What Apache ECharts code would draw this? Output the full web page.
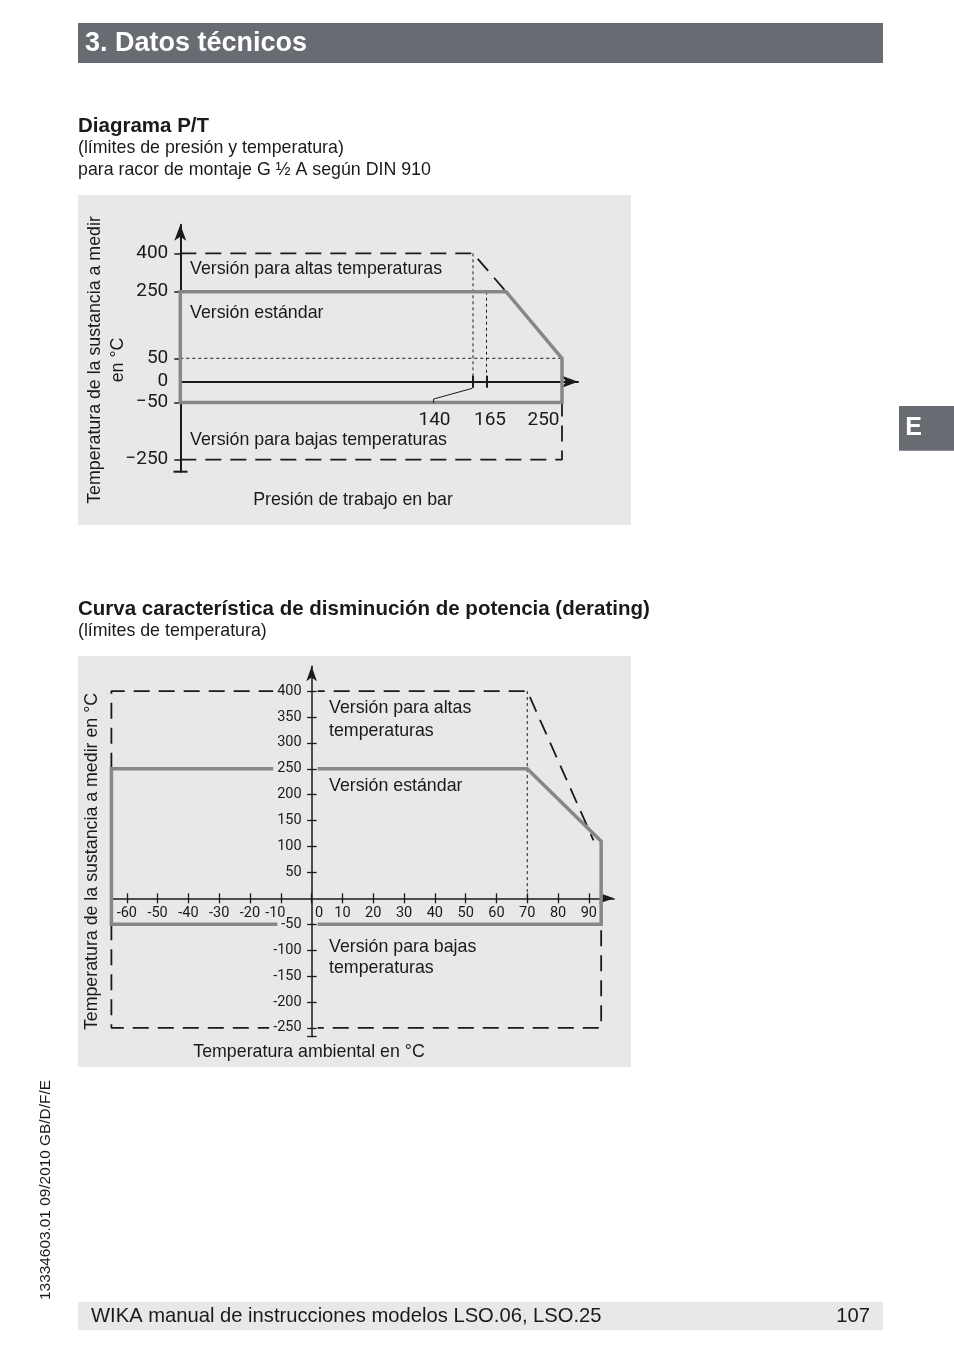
<!DOCTYPE html>
<html><head><meta charset="utf-8">
<script src="https://cdn.jsdelivr.net/npm/echarts@6/dist/echarts.min.js"></script>
<style>html,body{margin:0;padding:0;background:#fff}#c{width:954px;height:1354px}</style>
</head><body><div id="c"></div><script>
// ================= DATA =================
// Diagram P/T (pressure in bar vs medium temperature in °C)
const ptPressureTickLabels = [140, 165, 250];
const ptPressureTickMarks = [140, 165];
const ptTempTickLabels = [400, 250, 50, 0, -50, -250];
const ptTempTickMarks = [400, 250, 50, -50, -250];

const ptStdPressure = [0, 187, 250, 250, 0, 0];
const ptStdTemp = [250, 250, 50, -50, -50, 250];
const ptHighPressure = [0, 140, 187];
const ptHighTemp = [400, 400, 250];
const ptLowPressure = [0, 250, 250];
const ptLowTemp = [-250, -250, -50];
const ptGuide50Pressure = [0, 250];
const ptGuide50Temp = [50, 50];
const ptGuide140Pressure = [140, 140];
const ptGuide140Temp = [400, 0];
const ptGuide165Pressure = [165, 165];
const ptGuide165Temp = [250, 0];

// Derating curve (ambient temperature vs medium temperature, °C)
const drAmbientTicks = [-60, -50, -40, -30, -20, -10, 0, 10, 20, 30, 40, 50, 60, 70, 80, 90];
const drMediumTicks = [-250, -200, -150, -100, -50, 50, 100, 150, 200, 250, 300, 350, 400];
const drStdAmbient = [-65, 70, 94, 94, -65, -65];
const drStdMedium = [250, 250, 110, -50, -50, 250];
const drHighAmbient = [-65, -65, 70, 91.5];
const drHighMedium = [250, 400, 400, 112];
const drLowAmbient = [-65, -65, 94, 94];
const drLowMedium = [-50, -250, -250, -50];
const drGuideAmbient = [70, 70];
const drGuideMedium = [400, 0];

// ================= SCALES / STYLES =================
// The P/T diagram is a schematic with a piecewise (non-proportional) axis scale.
const ptXKnots = [0, 140, 165, 250], ptXSpan = [0, 292.7, 306.2, 381.7];
const ptYKnots = [-250, -50, 0, 50, 250, 400], ptYSpan = [-78, -20.8, 0, 23.4, 90, 128.4];
function warp(v, knots, span) {
  for (let i = 0; i < knots.length - 1; i++) {
    if (v <= knots[i + 1] || i === knots.length - 2) {
      const t = (v - knots[i]) / (knots[i + 1] - knots[i]);
      return span[i] + t * (span[i + 1] - span[i]);
    }
  }
}
const ptX = v => warp(v, ptXKnots, ptXSpan);
const ptY = v => warp(v, ptYKnots, ptYSpan);
const ident = v => v;
const pairs = (xs, ys, fx, fy) => xs.map((x, i) => [fx(x), fy(ys[i])]);

// axis ranges and grid boxes
const g0 = { left: 180.3, top: 224.7, width: 397.7, height: 247 };
const g0x = [0, 397.7], g0y = [-90, 157];
const g1 = { left: 111.4, top: 666.2, width: 502.7, height: 370.4 };
const g1x = [-65, 98.2], g1y = [-267, 448];
// offsets that put the axes through the origin (value 0)
const g0xOff = -(0 - g0y[0]) / (g0y[1] - g0y[0]) * g0.height;
const g1xOff = -(0 - g1y[0]) / (g1y[1] - g1y[0]) * g1.height;
const g1yOff = -(0 - g1x[0]) / (g1x[1] - g1x[0]) * g1.width;

const FONT = '"Liberation Sans", Arial, Helvetica, sans-serif';
const NUMFONT = 'Roboto, "DejaVu Sans", sans-serif';
const INK = '#1a1a1a';
const PANEL = '#e8e8e8';
const GREY = '#878787';
const BAR = '#686b72';

function ls(data, xi, yi, style, z) {
  return { type: 'line', xAxisIndex: xi, yAxisIndex: yi, data: data, symbol: 'none', showSymbol: false,
    clip: false, silent: true, animation: false, z: z == null ? 2 : z, lineStyle: style };
}
const greyStyle = w => ({ color: GREY, width: w, join: 'miter', cap: 'square' });
const dashStyle = { color: INK, width: 1.8, type: [16, 9] };
const dotStyle = { color: INK, width: 1, type: [3, 3] };

function txt(x, y, text, opts) {
  opts = opts || {};
  const size = opts.size || 17.8;
  const weight = opts.bold ? 'bold ' : '';
  return { type: 'text', x: x, y: y, z: 10, rotation: opts.rot || 0,
    style: { text: text, font: weight + size + 'px ' + (opts.family || FONT), fill: opts.color || INK,
      textAlign: opts.align || 'left', align: opts.align || 'left',
      textVerticalAlign: 'middle', verticalAlign: 'middle' } };
}

const ptRich = {
  p140: { fontFamily: NUMFONT, fontSize: 19, color: INK, padding: [0, 77, 0, 0] },
  p165: { fontFamily: NUMFONT, fontSize: 19, color: INK, padding: [0, 0, 0, 7] },
  p250: { fontFamily: NUMFONT, fontSize: 19, color: INK, padding: [0, 37, 0, 0] }
};
const noSplit = { show: false };
const DRS = 14.5;

const chart = echarts.init(document.getElementById('c'), null, { renderer: 'canvas' });

const option = {
  animation: false,
  backgroundColor: '#ffffff',
  grid: [g0, g1],
  xAxis: [
    { gridIndex: 0, type: 'value', position: 'bottom', min: g0x[0], max: g0x[1], offset: g0xOff,
      axisLine: { onZero: false, symbol: ['none', 'arrow'], symbolSize: [9, 16], lineStyle: { color: INK, width: 2 } },
      axisTick: { show: true, customValues: ptPressureTickMarks.map(ptX), length: 6, lineStyle: { color: INK, width: 2 } },
      axisLabel: { customValues: ptPressureTickLabels.map(ptX), margin: 29, fontFamily: NUMFONT, fontSize: 19, color: INK, rich: ptRich,
        formatter: function (val) {
          const i = ptPressureTickLabels.findIndex(v => Math.abs(ptX(v) - val) < 1e-6);
          const v = ptPressureTickLabels[i];
          return '{p' + v + '|' + v + '}';
        } },
      splitLine: noSplit },
    { gridIndex: 0, type: 'value', position: 'bottom', min: g0x[0], max: g0x[1], offset: g0xOff,
      axisLine: { show: false, onZero: false },
      axisTick: { show: true, inside: true, customValues: ptPressureTickMarks.map(ptX), length: 6, lineStyle: { color: INK, width: 2 } },
      axisLabel: { show: false }, splitLine: noSplit },
    { gridIndex: 1, type: 'value', position: 'bottom', min: g1x[0], max: g1x[1], offset: g1xOff,
      axisLine: { onZero: false, symbol: ['none', 'arrow'], symbolSize: [8, 15], lineStyle: { color: INK, width: 1.5 } },
      axisTick: { show: true, customValues: drAmbientTicks, length: 5, lineStyle: { color: INK, width: 1.3 } },
      axisLabel: { customValues: drAmbientTicks, margin: 8, fontFamily: NUMFONT, fontSize: DRS, color: INK,
        rich: {
          z: { fontFamily: NUMFONT, fontSize: DRS, color: INK, padding: [0, 0, 0, 15] },
          m: { fontFamily: NUMFONT, fontSize: DRS, color: INK, padding: [0, 11, 0, 0] }
        },
        formatter: function (v) {
          if (v === 0) return '{z|0}';
          if (v === -10) return '{m|-10}';
          return String(v);
        } },
      splitLine: noSplit },
    { gridIndex: 1, type: 'value', position: 'bottom', min: g1x[0], max: g1x[1], offset: g1xOff,
      axisLine: { show: false, onZero: false },
      axisTick: { show: true, inside: true, customValues: drAmbientTicks, length: 5, lineStyle: { color: INK, width: 1.3 } },
      axisLabel: { show: false }, splitLine: noSplit }
  ],
  yAxis: [
    { gridIndex: 0, type: 'value', position: 'left', min: g0y[0], max: g0y[1],
      axisLine: { onZero: false, symbol: ['none', 'arrow'], symbolSize: [9, 16], lineStyle: { color: INK, width: 2 } },
      axisTick: { show: true, customValues: ptTempTickMarks.map(ptY), length: 6, lineStyle: { color: INK, width: 1.5 } },
      axisLabel: { customValues: ptTempTickLabels.map(ptY), margin: 12, fontFamily: NUMFONT, fontSize: 19, color: INK,
        formatter: function (val) {
          const i = ptTempTickLabels.findIndex(v => Math.abs(ptY(v) - val) < 1e-6);
          return String(ptTempTickLabels[i]).replace('-', '\u2212');
        } },
      splitLine: noSplit },
    { gridIndex: 1, type: 'value', position: 'left', min: g1y[0], max: g1y[1], offset: g1yOff, z: 3,
      axisLine: { show: false, onZero: false },
      axisTick: { show: false },
      axisLabel: { customValues: drMediumTicks, margin: -6, fontFamily: NUMFONT, fontSize: DRS, color: INK,
        backgroundColor: PANEL, padding: [0, 16, 0, 4] },
      splitLine: noSplit },
    { gridIndex: 1, type: 'value', position: 'left', min: g1y[0], max: g1y[1], offset: g1yOff, z: 4,
      axisLine: { onZero: false, symbol: ['none', 'arrow'], symbolSize: [8, 15], lineStyle: { color: INK, width: 1.5 } },
      axisTick: { show: true, customValues: drMediumTicks.concat([g1y[0]]), length: 4.5, lineStyle: { color: INK, width: 1.3 } },
      axisLabel: { show: false }, splitLine: noSplit },
    { gridIndex: 1, type: 'value', position: 'left', min: g1y[0], max: g1y[1], offset: g1yOff, z: 4,
      axisLine: { show: false, onZero: false },
      axisTick: { show: true, inside: true, customValues: drMediumTicks.concat([g1y[0]]), length: 5, lineStyle: { color: INK, width: 1.3 } },
      axisLabel: { show: false }, splitLine: noSplit }
  ],
  series: [
    // P/T diagram
    ls(pairs(ptGuide50Pressure, ptGuide50Temp, ptX, ptY), 0, 0, dotStyle, 1),
    ls(pairs(ptGuide140Pressure, ptGuide140Temp, ptX, ptY), 0, 0, dotStyle, 1),
    ls(pairs(ptGuide165Pressure, ptGuide165Temp, ptX, ptY), 0, 0, dotStyle, 1),
    ls(pairs(ptHighPressure, ptHighTemp, ptX, ptY), 0, 0, dashStyle, 1),
    ls(pairs(ptLowPressure, ptLowTemp, ptX, ptY), 0, 0, dashStyle, 1),
    ls(pairs(ptStdPressure, ptStdTemp, ptX, ptY), 0, 0, greyStyle(3.5), 2),
    // Derating curve
    ls(pairs(drGuideAmbient, drGuideMedium, ident, ident), 2, 1, dotStyle, 1),
    ls(pairs(drHighAmbient, drHighMedium, ident, ident), 2, 1, dashStyle, 1),
    ls(pairs(drLowAmbient, drLowMedium, ident, ident), 2, 1, dashStyle, 1),
    ls(pairs(drStdAmbient, drStdMedium, ident, ident), 2, 1, greyStyle(3.5), 2)
  ],
  graphic: {
    elements: [
      // page furniture
      { type: 'rect', z: -5, shape: { x: 78, y: 195, width: 553, height: 330 }, style: { fill: PANEL } },
      { type: 'rect', z: -5, shape: { x: 78, y: 656, width: 553, height: 411 }, style: { fill: PANEL } },
      { type: 'rect', z: 5, shape: { x: 78, y: 23, width: 805, height: 40 }, style: { fill: BAR } },
      txt(85, 43.5, '3. Datos técnicos', { bold: true, size: 27, color: '#ffffff' }),
      { type: 'rect', z: 5, shape: { x: 899, y: 406, width: 55, height: 44.7 }, style: { fill: BAR } },
      txt(913.5, 428, 'E', { bold: true, size: 25, color: '#ffffff', align: 'center' }),
      { type: 'rect', z: 5, shape: { x: 78, y: 1302, width: 805, height: 28 }, style: { fill: PANEL } },
      txt(91, 1316.5, 'WIKA manual de instrucciones modelos LSO.06, LSO.25', { size: 20.2 }),
      txt(870, 1316.5, '107', { size: 20.2, align: 'right' }),
      txt(46, 1190, '13334603.01 09/2010 GB/D/F/E', { size: 15.4, align: 'center', rot: Math.PI / 2 }),
      // headings
      txt(78, 126, 'Diagrama P/T', { bold: true, size: 20.5 }),
      txt(78, 148, '(límites de presión y temperatura)'),
      txt(78, 170, 'para racor de montaje G ½ A según DIN 910'),
      txt(78, 609, 'Curva característica de disminución de potencia (derating)', { bold: true, size: 20.5 }),
      txt(78, 631, '(límites de temperatura)'),
      // P/T diagram annotations
      txt(190, 269, 'Versión para altas temperaturas'),
      txt(190, 313, 'Versión estándar'),
      txt(190, 440, 'Versión para bajas temperaturas'),
      txt(353, 500, 'Presión de trabajo en bar', { align: 'center' }),
      txt(95.6, 360, 'Temperatura de la sustancia a medir', { align: 'center', rot: Math.PI / 2 }),
      txt(118.6, 360, 'en °C', { align: 'center', rot: Math.PI / 2 }),
      { type: 'polyline', z: 6, shape: { points: [[433.6, 403], [433.6, 399], [472.4, 388.3]] }, style: { stroke: INK, lineWidth: 1, fill: null } },
      { type: 'line', z: 6, shape: { x1: 173.5, y1: 471.7, x2: 187.5, y2: 471.7 }, style: { stroke: INK, lineWidth: 2 } },
      // Derating annotations
      txt(329, 708.5, 'Versión para altas'),
      txt(329, 731, 'temperaturas'),
      txt(329, 785.7, 'Versión estándar'),
      txt(329, 947.3, 'Versión para bajas'),
      txt(329, 968.5, 'temperaturas'),
      txt(309, 1052, 'Temperatura ambiental en °C', { align: 'center' }),
      txt(92, 861.5, 'Temperatura de la sustancia a medir en °C', { align: 'center', rot: Math.PI / 2 })
    ]
  }
};
chart.setOption(option);
</script></body></html>
